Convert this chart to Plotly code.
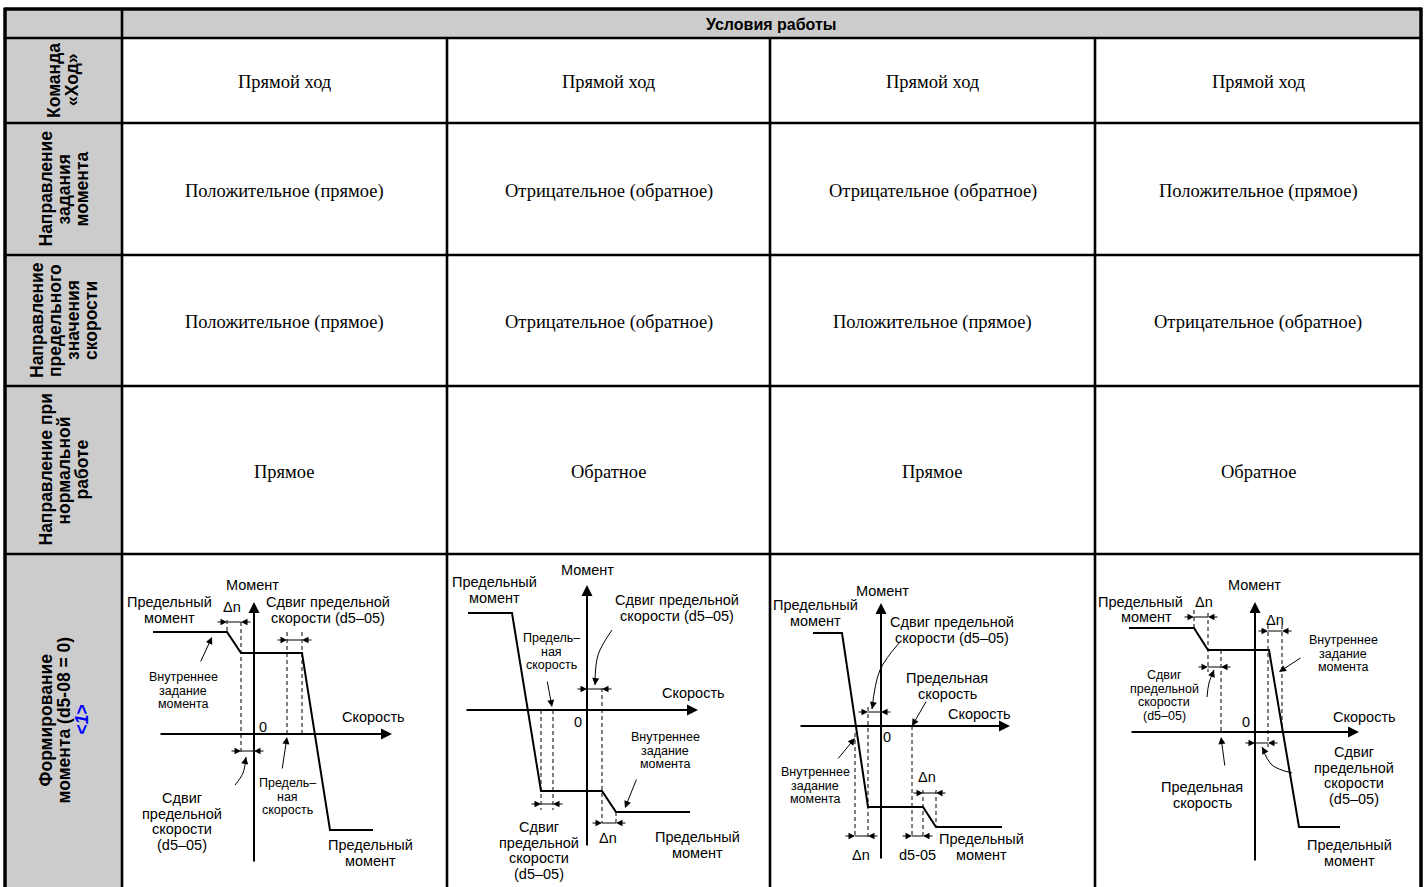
import math
import plotly.graph_objects as go

W, H = 1425, 887

# ---- table content ----
HEADER = "Условия работы"
ROW_TITLES = [
    ["Команда", "«Ход»"],
    ["Направление", "задания", "момента"],
    ["Направление", "предельного", "значения", "скорости"],
    ["Направление при", "нормальной", "работе"],
    ["Формирование", "момента (d5-08 = 0)",
     "<span style='color:#0000ff'>&lt;<i>1</i>&gt;</span>"],
]
RUN_COMMAND = ["Прямой ход", "Прямой ход", "Прямой ход", "Прямой ход"]
TORQUE_REF_DIR = ["Положительное (прямое)", "Отрицательное (обратное)",
                  "Отрицательное (обратное)", "Положительное (прямое)"]
SPEED_LIMIT_DIR = ["Положительное (прямое)", "Отрицательное (обратное)",
                   "Положительное (прямое)", "Отрицательное (обратное)"]
NORMAL_DIR = ["Прямое", "Обратное", "Прямое", "Обратное"]

# ---- diagram data (speed, torque) ----
# diagram 1
D1_SPEED = [-101, -27, -13, 48, 76, 119]
D1_TORQUE = [102, 102, 81, 81, -96, -96]
D1_AXES = (-95, 138, -129, 132)
D1_DASHED = [(-13, 112, -18), (33, 102, 0), (48, 102, 0), (-27, 114, 102)]
D1_DIMS = [(-27, -13, 112), (33, 48, 94), (-13, 0, -17)]
D1_LEADERS = [((-54, 71), (-42, 97)), ((28, -36), (33, -3))]
D1_CURVED = [((-19, -51), (-11, -39), (-8, -23))]
D1_LABELS = [
    (["Момент"], -2, 149, 14.5),
    (["Предельный", "момент"], -85, 132, 14.5),
    (["Δn"], -22, 127, 14.5),
    (["Сдвиг предельной", "скорости (d5–05)"], 74, 132, 14.5),
    (["Внутреннее", "задание", "момента"], -71, 57, 12.5),
    (["Скорость"], 119, 17, 14.5),
    (["0"], 9, 7, 14.5),
    (["Сдвиг", "предельной", "скорости", "(d5–05)"], -72, -64, 14.5),
    (["Предель–", "ная", "скорость"], 33, -49, 12.5),
    (["Предельный", "момент"], 116, -111, 14.5),
]

# diagram 2
D2_SPEED = [-119, -75, -46, 15, 29, 103]
D2_TORQUE = [97, 97, -81, -81, -102, -102]
D2_AXES = (-122, 111, -137, 125)
D2_DASHED = [(-46, 0, -100), (-34, 0, -100), (15, 22, -113), (29, -102, -113)]
D2_DIMS = [(0, 15, 21), (-46, -34, -94), (15, 29, -113)]
D2_LEADERS = [((-40, 30), (-35, 3)), ((50, -68), (38, -98))]
D2_CURVED = [((25, 80), (11, 55), (8, 25))]
D2_LABELS = [
    (["Момент"], 0, 140, 14.5),
    (["Предельный", "момент"], -93, 128, 14.5),
    (["Сдвиг предельной", "скорости (d5–05)"], 90, 110, 14.5),
    (["Предель–", "ная", "скорость"], -36, 72, 12.5),
    (["Скорость"], 106, 17, 14.5),
    (["0"], -9, -12, 14.5),
    (["Внутреннее", "задание", "момента"], 78, -27, 12.5),
    (["Сдвиг", "предельной", "скорости", "(d5–05)"], -48, -117, 14.5),
    (["Δn"], 21, -128, 14.5),
    (["Предельный", "момент"], 110, -127, 14.5),
]

# diagram 3
D3_SPEED = [-68, -39, -13, 42, 55, 121]
D3_TORQUE = [93, 93, -81, -81, -101, -101]
D3_AXES = (-82, 129, -134, 123)
D3_DASHED = [(-26, -7, -112), (-13, 19, -112), (31, 0, -112), (42, -64, -112), (55, -64, -101)]
D3_DIMS = [(-13, 0, 14), (42, 55, -67), (-26, -13, -110), (31, 42, -110)]
D3_LEADERS = [((-44, -34), (-26, -12)), ((46, 26), (31, 0))]
D3_CURVED = [((19, 84), (-1, 56), (-9, 17))]
D3_LABELS = [
    (["Момент"], 1, 135, 14.5),
    (["Предельный", "момент"], -66, 121, 14.5),
    (["Сдвиг предельной", "скорости (d5–05)"], 71, 104, 14.5),
    (["Предельная", "скорость"], 66, 48, 14.5),
    (["Скорость"], 98, 12, 14.5),
    (["0"], 6, -11, 14.5),
    (["Внутреннее", "задание", "момента"], -66, -46, 12.5),
    (["Δn"], 46, -51, 14.5),
    (["Δn"], -20, -129, 14.5),
    (["d5-05"], 36, -129, 14.5),
    (["Предельный", "момент"], 100, -113, 14.5),
]

# diagram 4
D4_SPEED = [-126, -61, -47, 14, 44, 85]
D4_TORQUE = [104, 104, 82, 82, -95, -95]
D4_AXES = (-125, 104, -130, 130)
D4_DASHED = [(-61, 122, 104), (-47, 119, 60), (-34, 82, 0), (13, 107, -15), (27, 107, 0)]
D4_DIMS = [(-61, -47, 115), (-47, -34, 65), (13, 27, 101), (0, 13, -11)]
D4_LEADERS = [((47, 75), (24, 60)), ((-30, -35), (-34, -5))]
D4_CURVED = [((-48, 35), (-46, 49), (-41, 62)), ((37, -41), (17, -33), (7, -15))]
D4_LABELS = [
    (["Момент"], -1, 147, 14.5),
    (["Предельный"], -115, 130, 14.5),
    (["момент"], -109, 115, 14.5),
    (["Δn"], -51, 130, 14.5),
    (["Δn"], 20, 112, 14.5),
    (["Внутреннее", "задание", "момента"], 88, 92, 12.5),
    (["Сдвиг", "предельной", "скорости", "(d5–05)"], -91, 57, 12.5),
    (["0"], -9, 10, 14.5),
    (["Скорость"], 109, 15, 14.5),
    (["Сдвиг", "предельной", "скорости", "(d5–05)"], 99, -20, 14.5),
    (["Предельная", "скорость"], -53, -55, 14.5),
    (["Предельный", "момент"], 94, -113, 14.5),
]

# ---- layout geometry (pixels) ----
COL_X = [5, 122, 447, 770, 1095, 1421]
ROW_Y = [9, 38, 123, 255, 386, 554, 887]
ORIGINS = [(254, 734), (587, 710), (881, 726), (1255, 732)]

SANS = "Liberation Sans, Arial, sans-serif"
SERIF = "Liberation Serif, Times New Roman, serif"
GRAY = "#cccccc"


def px(x):
    return x / W


def py(y):
    return 1 - y / H


fig = go.Figure()
shapes = []
annotations = []

# fills
shapes.append(dict(type="rect", xref="paper", yref="paper", x0=px(COL_X[0]), x1=px(COL_X[-1]),
                   y0=py(ROW_Y[0]), y1=py(ROW_Y[1]), fillcolor=GRAY, line_width=0, layer="below"))
shapes.append(dict(type="rect", xref="paper", yref="paper", x0=px(COL_X[0]), x1=px(COL_X[1]),
                   y0=py(ROW_Y[1]), y1=py(H + 5), fillcolor=GRAY, line_width=0, layer="below"))


def hline(y, w):
    shapes.append(dict(type="line", xref="paper", yref="paper", x0=px(COL_X[0]), x1=px(COL_X[-1]),
                       y0=py(y), y1=py(y), line=dict(color="black", width=w)))


def vline(x, y0, w):
    shapes.append(dict(type="line", xref="paper", yref="paper", x0=px(x), x1=px(x),
                       y0=py(y0), y1=py(H + 5), line=dict(color="black", width=w)))


hline(ROW_Y[0], 3.5)
for y in ROW_Y[1:-1]:
    hline(y, 2.6)
vline(COL_X[0], ROW_Y[0] - 1.5, 3.5)
vline(COL_X[-1], ROW_Y[0] - 1.5, 3.5)
vline(COL_X[1], ROW_Y[0], 2.6)
for x in COL_X[2:-1]:
    vline(x, ROW_Y[1], 2.6)


def cell_text(x, y, text, family, size, angle=0):
    annotations.append(dict(xref="paper", yref="paper", x=px(x), y=py(y), text=text,
                            xanchor="center", yanchor="middle", textangle=angle, showarrow=False,
                            font=dict(family=family, size=size, color="black")))


# header
cell_text((COL_X[1] + COL_X[-1]) / 2, (ROW_Y[0] + ROW_Y[1]) / 2 + 0.5, "<b>" + HEADER + "</b>", SANS, 16)

# row titles (rotated)
cx = (COL_X[0] + COL_X[1]) / 2
for r, lines in enumerate(ROW_TITLES):
    cy = (ROW_Y[r + 1] + ROW_Y[r + 2]) / 2
    if r == 4:
        cy = 720
    n = len(lines)
    sp = 18
    for i, line in enumerate(lines):
        cell_text(cx + (i - (n - 1) / 2) * sp, cy, "<b>" + line + "</b>", SANS, 17.5, angle=-90)

# body cells
for r, row in enumerate([RUN_COMMAND, TORQUE_REF_DIR, SPEED_LIMIT_DIR, NORMAL_DIR]):
    cy = (ROW_Y[r + 1] + ROW_Y[r + 2]) / 2 + 2
    for c, txt in enumerate(row):
        cell_text((COL_X[c + 1] + COL_X[c + 2]) / 2, cy, txt, SERIF, 18.5)


def arrow(xa, ya, tail, head, width=1.0, size=1.4):
    annotations.append(dict(xref=xa, yref=ya, axref=xa, ayref=ya, x=head[0], y=head[1],
                            ax=tail[0], ay=tail[1], text="", showarrow=True, arrowhead=2,
                            arrowwidth=width, arrowsize=size, arrowcolor="black", standoff=0))


def draw_diagram(k, speed, torque, lim, dashed, dims, leaders, curved, labels):
    xa = "x" if k == 0 else f"x{k + 1}"
    ya = "y" if k == 0 else f"y{k + 1}"
    x0, y0 = ORIGINS[k]
    cl, cr = COL_X[k + 1], COL_X[k + 2]
    key_x = "xaxis" if k == 0 else f"xaxis{k + 1}"
    key_y = "yaxis" if k == 0 else f"yaxis{k + 1}"
    fig.layout[key_x] = dict(domain=[px(cl), px(cr)], range=[cl - x0, cr - x0], visible=False,
                             fixedrange=True, anchor=ya)
    fig.layout[key_y] = dict(domain=[0, py(ROW_Y[5])], range=[y0 - H, y0 - ROW_Y[5]], visible=False,
                             fixedrange=True, anchor=xa)

    # axes
    smin, smax, tmin, tmax = lim
    arrow(xa, ya, (smin, 0), (smax, 0), width=2, size=1.1)
    arrow(xa, ya, (0, tmin), (0, tmax), width=2, size=1.1)

    # dashed guides
    xs, ys = [], []
    for s, t0, t1 in dashed:
        xs += [s, s, None]
        ys += [t0, t1, None]
    fig.add_trace(go.Scatter(x=xs, y=ys, mode="lines", xaxis=xa, yaxis=ya,
                             line=dict(color="black", width=1, dash="4px,3px"), hoverinfo="skip"))

    # dimension lines
    xs, ys = [], []
    for a, b, t in dims:
        xs += [a, b, None]
        ys += [t, t, None]
        arrow(xa, ya, (a - 11, t), (a, t), width=1, size=1.3)
        arrow(xa, ya, (b + 11, t), (b, t), width=1, size=1.3)
    fig.add_trace(go.Scatter(x=xs, y=ys, mode="lines", xaxis=xa, yaxis=ya,
                             line=dict(color="black", width=1), hoverinfo="skip"))

    # leaders
    for tail, head in leaders:
        arrow(xa, ya, tail, head, width=1, size=1.4)
    for p0, pm, p1 in curved:
        fig.add_trace(go.Scatter(x=[p0[0], pm[0], p1[0]], y=[p0[1], pm[1], p1[1]], mode="lines",
                                 xaxis=xa, yaxis=ya, line=dict(color="black", width=1, shape="spline"),
                                 hoverinfo="skip"))
        dx, dy = p1[0] - pm[0], p1[1] - pm[1]
        d = math.hypot(dx, dy)
        arrow(xa, ya, (p1[0] - 5 * dx / d, p1[1] - 5 * dy / d), p1, width=1, size=1.4)

    # torque curve
    fig.add_trace(go.Scatter(x=speed, y=torque, mode="lines", xaxis=xa, yaxis=ya,
                             line=dict(color="black", width=2), hoverinfo="skip"))

    # labels
    for lines, x, y, size in labels:
        for i, line in enumerate(lines):
            annotations.append(dict(xref=xa, yref=ya, x=x, y=y - i * size * 1.08, text=line,
                                    xanchor="center", yanchor="middle", showarrow=False,
                                    font=dict(family=SANS, size=size, color="black")))


draw_diagram(0, D1_SPEED, D1_TORQUE, D1_AXES, D1_DASHED, D1_DIMS, D1_LEADERS, D1_CURVED, D1_LABELS)
draw_diagram(1, D2_SPEED, D2_TORQUE, D2_AXES, D2_DASHED, D2_DIMS, D2_LEADERS, D2_CURVED, D2_LABELS)
draw_diagram(2, D3_SPEED, D3_TORQUE, D3_AXES, D3_DASHED, D3_DIMS, D3_LEADERS, D3_CURVED, D3_LABELS)
draw_diagram(3, D4_SPEED, D4_TORQUE, D4_AXES, D4_DASHED, D4_DIMS, D4_LEADERS, D4_CURVED, D4_LABELS)

fig.update_layout(width=W, height=H, margin=dict(l=0, r=0, t=0, b=0), showlegend=False,
                  paper_bgcolor="white", plot_bgcolor="rgba(0,0,0,0)", hovermode=False,
                  shapes=shapes, annotations=annotations)

# the page's default body margin would push the figure 8px off the reference grid
fig.write_html("out.html", config={"displayModeBar": False},
               post_script="document.body.style.margin='0';document.body.style.overflow='hidden';")
